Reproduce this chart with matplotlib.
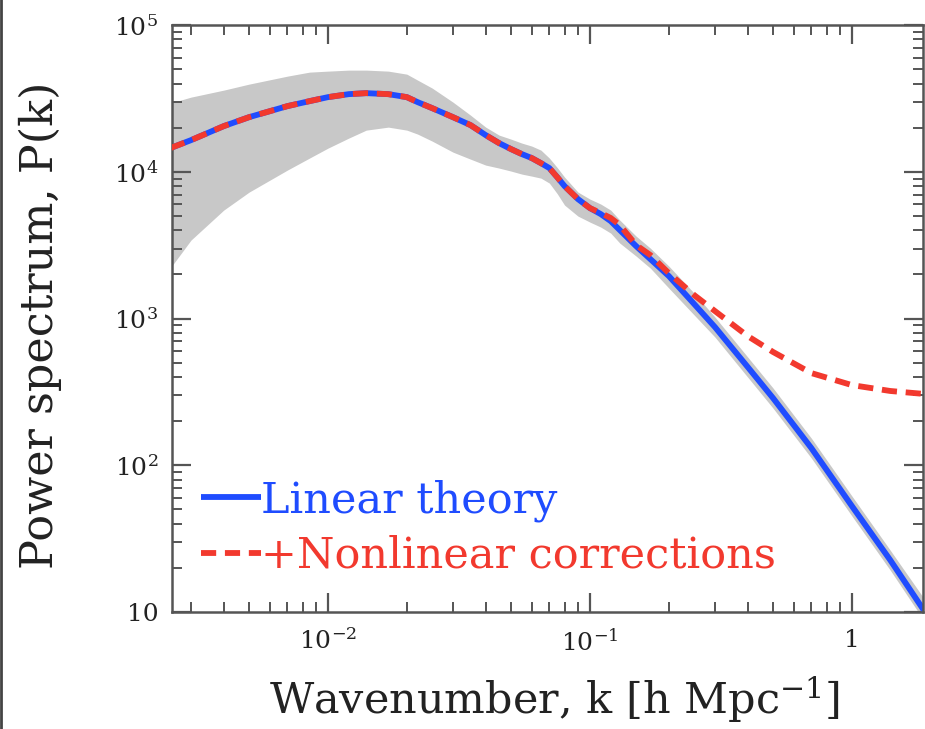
import numpy as np
import matplotlib
matplotlib.use('Agg')
import matplotlib.pyplot as plt
from matplotlib.ticker import FixedLocator, LogLocator, NullFormatter, FixedFormatter
from matplotlib.lines import Line2D

plt.rcParams['font.family'] = 'DejaVu Serif'
plt.rcParams['mathtext.fontset'] = 'dejavuserif'

# wavenumber grid, h/Mpc
k = [0.0025, 0.003, 0.004, 0.005, 0.007, 0.0085, 0.01, 0.012, 0.014, 0.017,
     0.02, 0.022, 0.025, 0.03, 0.035, 0.04, 0.045, 0.05, 0.055, 0.06,
     0.065, 0.07, 0.075, 0.08, 0.09, 0.1, 0.11, 0.12, 0.13, 0.15, 0.17,
     0.2, 0.25, 0.3, 0.4, 0.5, 0.7, 1.0, 1.4, 1.9]

# linear theory P(k)
p_lin = [14510, 16450, 20500, 23600, 28060, 30340, 32310, 33860, 34400, 33860,
         32310, 29870, 27180, 23600, 20830, 17800, 15700, 14290, 13210, 12410,
         11470, 10610, 9200, 7996, 6522, 5662, 5152, 4617, 4009, 3119, 2544,
         1949, 1256, 875, 468, 287, 131, 52.7, 22.6, 10.0]

# linear + nonlinear corrections
p_nl = [14510, 16450, 20500, 23600, 28060, 30340, 32310, 33860, 34400, 33860,
        32310, 29870, 27180, 23600, 20830, 17800, 15700, 14290, 13210, 12410,
        11470, 10610, 9200, 7996, 6522, 5662, 5240, 4850, 4340, 3170, 2710,
        2040, 1445, 1125, 760, 592, 425, 352, 321, 306]

# grey uncertainty band
band_hi = [29400, 32310, 36060, 39630, 44910, 47830, 48590, 49370, 49370, 48590,
           46340, 42180, 37220, 29870, 24350, 20180, 17800, 16710, 15700, 14980,
           14060, 12410, 10700, 9208, 7278, 6522, 6030, 5486, 4690, 3649, 3021,
           2279, 1490, 1024, 547, 336, 153, 61.7, 26.4, 12.1]
band_lo = [2208, 3427, 5486, 7278, 10280, 12410, 14510, 16980, 19250, 20180,
           19250, 18080, 16200, 13630, 12210, 11120, 10610, 10120, 9654, 9354,
           9065, 8381, 7100, 5936, 4993, 4545, 4202, 3825, 3269, 2667, 2208,
           1614, 1057, 748, 399, 245, 112, 45.1, 19.3, 8.55]

xticks = [0.01, 0.1, 1]
xticklabels = ['10$^{-2}$', '10$^{-1}$', '1']
yticks = [10, 100, 1000, 1e4, 1e5]
yticklabels = ['10', '10$^{2}$', '10$^{3}$', '10$^{4}$', '10$^{5}$']

blue = '#1f4cff'
red = '#f2392e'
axcol = '#555555'
txtcol = '#222222'

fig = plt.figure(figsize=(9.25, 7.29), dpi=100)
ax = fig.add_axes([0.186, 0.1605, 0.812, 0.805])

ax.fill_between(k, band_lo, band_hi, color='#c8c8c8', lw=0, zorder=1)
ax.plot(k, p_lin, color=blue, lw=4.2, solid_capstyle='butt',
        solid_joinstyle='round', zorder=2, label='Linear theory')
ax.plot(k, p_nl, color=red, lw=4.2, dashes=(2.6, 1.5), zorder=3,
        label='+Nonlinear corrections')

ax.set_xscale('log')
ax.set_yscale('log')
ax.set_xlim(0.00254, 1.87)
ax.set_ylim(10, 1e5)

ax.xaxis.set_major_locator(FixedLocator(xticks))
ax.xaxis.set_major_formatter(FixedFormatter(xticklabels))
ax.yaxis.set_major_locator(FixedLocator(yticks))
ax.yaxis.set_major_formatter(FixedFormatter(yticklabels))
for a in (ax.xaxis, ax.yaxis):
    a.set_minor_locator(LogLocator(base=10, subs=np.arange(2, 10), numticks=20))
    a.set_minor_formatter(NullFormatter())

ax.tick_params(which='both', direction='in', top=True, right=True,
               color=axcol, labelsize=18, labelcolor=txtcol)
ax.tick_params(which='major', length=14, width=1.6)
ax.tick_params(which='minor', length=7, width=1.4)
ax.tick_params(axis='x', which='major', pad=12)
ax.tick_params(axis='y', which='major', pad=10)
for s in ax.spines.values():
    s.set_color(axcol)
    s.set_linewidth(1.8)

ax.set_xlabel('Wavenumber, k [h Mpc$^{-1}$]', fontsize=31, color=txtcol)
ax.set_ylabel('Power spectrum, P(k)', fontsize=32, color=txtcol)
ax.xaxis.set_label_coords(0.509, -0.106)
ax.yaxis.set_label_coords(-0.147, 0.489)

leg = ax.legend(loc='lower left', bbox_to_anchor=(0.038, 0.06), frameon=False,
                fontsize=31, handlelength=1.4, handletextpad=0.0,
                labelspacing=0.3, borderpad=0, borderaxespad=0,
                labelcolor='linecolor')

fig.add_artist(Line2D([0.0015, 0.0015], [0, 1], transform=fig.transFigure,
                      color='#444444', lw=2))

fig.savefig('out.png', dpi=100)
